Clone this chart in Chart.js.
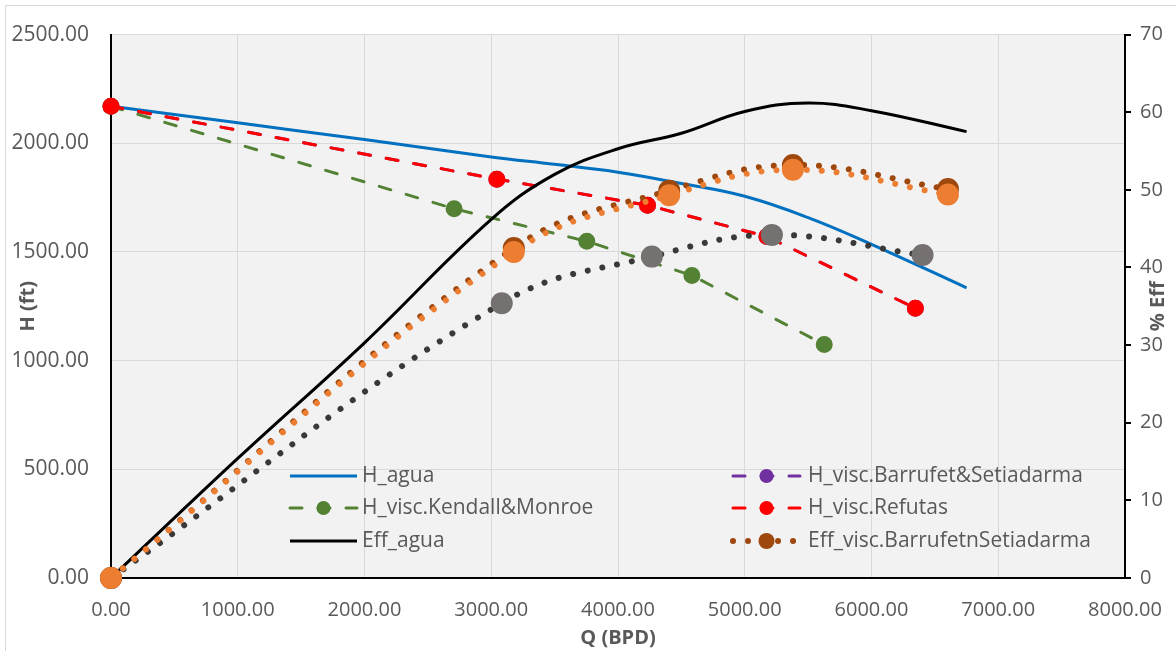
<!DOCTYPE html>
<html>
<head>
<meta charset="utf-8">
<script src="https://cdn.jsdelivr.net/npm/chart.js@4.4.0/dist/chart.umd.min.js"></script>
<style>
body { margin: 0; background: #fff; }
</style>
</head>
<body>
<canvas id="mycanvas" width="1176" height="651"></canvas>
<script>
// water curves (Q in BPD)
var qAgua = [0, 1000, 2000, 3000, 3500, 4000, 4500, 5000, 5500, 6000, 6750];
var hAgua = [2170, 2094, 2017, 1937, 1903, 1867, 1815, 1756, 1658, 1535, 1335];
var effAgua = [0, 15.4, 30.3, 46.2, 52.0, 55.3, 57.3, 60.1, 61.2, 60.2, 57.5];

// viscous head curves
var qKendall = [0, 2707, 3754, 4583, 5627];
var hKendall = [2170, 1699, 1549, 1392, 1074];
var qRefutas = [0, 3044, 4233, 5175, 6346];
var hRefutas = [2170, 1835, 1715, 1571, 1241];
var qBarrufet = [0, 3044, 4233, 5175, 6346];
var hBarrufet = [2170, 1835, 1715, 1571, 1241];

// viscous efficiency curves
var qEffBarrufet = [0, 3178, 4404, 5380, 6603];
var effBarrufet = [0, 42.5, 49.9, 53.2, 50.1];
var qEffRefutas = [0, 3178, 4404, 5380, 6603];
var effRefutas = [0, 42.0, 49.3, 52.6, 49.4];
var qEffKendall = [0, 3083, 4267, 5214, 6403];
var effKendall = [0, 35.4, 41.4, 44.2, 41.6];

var xMax = 8000, xStep = 1000;
var hMax = 2500, hStep = 500;
var effMax = 70, effStep = 10;

function pts(xs, ys) {
	return xs.map(function(x, i) { return {x: x, y: ys[i]}; });
}

Chart.defaults.font.family = "'Open Sans', sans-serif";
Chart.defaults.color = '#595959';

var dash = [12, 16];
var dot = [0.01, 15];

var datasets = [
	{
		label: 'H_agua', data: pts(qAgua, hAgua), yAxisID: 'y',
		borderColor: '#0070C0', borderWidth: 3, pointRadius: 0, tension: 0.4
	},
	{
		label: 'H_visc.Barrufet&Setiadarma', data: pts(qBarrufet, hBarrufet), yAxisID: 'y',
		borderColor: '#7030A0', borderWidth: 3, borderDash: dash, borderCapStyle: 'round',
		pointRadius: 7, pointBackgroundColor: '#7030A0', pointBorderColor: '#7030A0', tension: 0
	},
	{
		label: 'H_visc.Kendall&Monroe', data: pts(qKendall, hKendall), yAxisID: 'y',
		borderColor: '#548235', borderWidth: 3, borderDash: dash, borderCapStyle: 'round',
		pointRadius: 7, pointBackgroundColor: '#548235', pointBorderColor: '#548235', tension: 0
	},
	{
		label: 'H_visc.Refutas', data: pts(qRefutas, hRefutas), yAxisID: 'y',
		borderColor: '#FF0000', borderWidth: 3, borderDash: dash, borderCapStyle: 'round',
		pointRadius: 7, pointBackgroundColor: '#FF0000', pointBorderColor: '#FF0000', tension: 0
	},
	{
		label: 'Eff_agua', data: pts(qAgua, effAgua), yAxisID: 'y1',
		borderColor: '#000000', borderWidth: 3, pointRadius: 0, tension: 0.4
	},
	{
		label: 'Eff_visc.Kendall&Monroe', data: pts(qEffKendall, effKendall), yAxisID: 'y1',
		borderColor: '#3B3838', borderWidth: 6, borderDash: dot, borderCapStyle: 'round',
		pointRadius: 8, pointBackgroundColor: '#767171', pointBorderColor: '#767171', tension: 0.4
	},
	{
		label: 'Eff_visc.BarrufetnSetiadarma', data: pts(qEffBarrufet, effBarrufet), yAxisID: 'y1',
		borderColor: '#9E480E', borderWidth: 6, borderDash: dot, borderCapStyle: 'round',
		pointRadius: 8, pointBackgroundColor: '#9E480E', pointBorderColor: '#9E480E', tension: 0.4
	},
	{
		label: 'Eff_visc.Refutas', data: pts(qEffRefutas, effRefutas), yAxisID: 'y1',
		borderColor: '#ED7D31', borderWidth: 6, borderDash: dot, borderCapStyle: 'round',
		pointRadius: 8, pointBackgroundColor: '#ED7D31', pointBorderColor: '#ED7D31', tension: 0.4
	}
];
// later series on top, markers not clipped at the axes
datasets.forEach(function(d, i) { d.order = -i; d.fill = false; d.clip = false; });

// legend: six series, two columns (indices into datasets)
var legendItems = [0, 1, 2, 3, 4, 6];
var legendCols = [{x0: 290, x1: 357, tx: 362}, {x0: 733, x1: 800, tx: 808}];
var legendRows = [476, 508, 541];

var bgPlugin = {
	id: 'bg',
	beforeDraw: function(chart) {
		var ctx = chart.ctx, a = chart.chartArea;
		ctx.save();
		ctx.fillStyle = '#ffffff';
		ctx.fillRect(0, 0, chart.width, chart.height);
		ctx.strokeStyle = '#d9d9d9';
		ctx.lineWidth = 1;
		ctx.beginPath();
		ctx.moveTo(5.5, chart.height);
		ctx.lineTo(5.5, 5.5);
		ctx.lineTo(chart.width, 5.5);
		ctx.stroke();
		ctx.fillStyle = '#f2f2f2';
		ctx.fillRect(a.left, a.top, a.right - a.left, a.bottom - a.top);
		ctx.restore();
	}
};

var legendPlugin = {
	id: 'xlLegend',
	afterDraw: function(chart) {
		var ctx = chart.ctx;
		ctx.save();
		for (var i = 0; i < legendItems.length; i++) {
			var ds = chart.data.datasets[legendItems[i]];
			var c = legendCols[i % 2];
			var y = legendRows[Math.floor(i / 2)];
			ctx.strokeStyle = ds.borderColor;
			ctx.lineWidth = ds.borderWidth;
			ctx.lineCap = ds.borderCapStyle || 'butt';
			ctx.setLineDash(ds.borderDash || []);
			ctx.beginPath();
			ctx.moveTo(c.x0, y);
			ctx.lineTo(c.x1, y);
			ctx.stroke();
			ctx.setLineDash([]);
			if (ds.pointRadius > 0) {
				ctx.fillStyle = ds.pointBackgroundColor;
				ctx.beginPath();
				ctx.arc((c.x0 + c.x1) / 2, y, ds.pointRadius, 0, Math.PI * 2);
				ctx.fill();
			}
			ctx.fillStyle = '#595959';
			ctx.font = "21px 'Open Sans', sans-serif";
			ctx.textAlign = 'left';
			ctx.textBaseline = 'middle';
			ctx.fillText(ds.label, c.tx, y);
		}
		// right axis title reads bottom to top
		var a = chart.chartArea;
		ctx.translate(1158, (a.top + a.bottom) / 2);
		ctx.rotate(-Math.PI / 2);
		ctx.font = "bold 20px 'Open Sans', sans-serif";
		ctx.textAlign = 'center';
		ctx.textBaseline = 'middle';
		ctx.fillText('% Eff', 0, 0);
		ctx.restore();
	}
};

var ctx = document.getElementById('mycanvas');

var chart = new Chart(ctx, {
	type: 'line',
	data: { datasets: datasets },
	options: {
		responsive: false,
		animation: false,
		layout: { padding: { top: 28, left: 0, right: 0, bottom: 0 } },
		plugins: {
			legend: { display: false },
			tooltip: { enabled: false }
		},
		scales: {
			x: {
				type: 'linear', min: 0, max: xMax,
				ticks: {
					stepSize: xStep, autoSkip: false, maxRotation: 0, padding: 20,
					font: { size: 20 }, color: '#595959',
					callback: function(v) { return v.toFixed(2); }
				},
				grid: { color: '#d9d9d9', lineWidth: 1, drawTicks: false },
				border: { color: '#000000', width: 2 },
				title: {
					display: true, text: 'Q (BPD)', color: '#595959',
					font: { size: 20, weight: 'bold' }, padding: { top: 0, bottom: 1 }
				},
				afterFit: function(s) { s.height = 73; s.paddingLeft = 0; s.paddingRight = 0; }
			},
			y: {
				type: 'linear', position: 'left', min: 0, max: hMax,
				ticks: {
					stepSize: hStep, padding: 22,
					font: { size: 21 }, color: '#595959',
					callback: function(v) { return v.toFixed(2); }
				},
				grid: { color: '#d9d9d9', lineWidth: 1, drawTicks: false },
				border: { color: '#000000', width: 2 },
				title: {
					display: true, text: 'H (ft)', color: '#595959',
					font: { size: 20, weight: 'bold' }, padding: { top: 16, bottom: 0 }
				},
				afterFit: function(s) { s.width = 111; }
			},
			y1: {
				type: 'linear', position: 'right', min: 0, max: effMax,
				ticks: {
					stepSize: effStep, padding: 9,
					font: { size: 20 }, color: '#595959'
				},
				grid: { drawOnChartArea: false, drawTicks: true, tickLength: 6, color: '#000000', lineWidth: 2 },
				border: { color: '#000000', width: 2 },
				afterFit: function(s) { s.width = 51; }
			}
		}
	},
	plugins: [bgPlugin, legendPlugin]
});
</script>
</body>
</html>
